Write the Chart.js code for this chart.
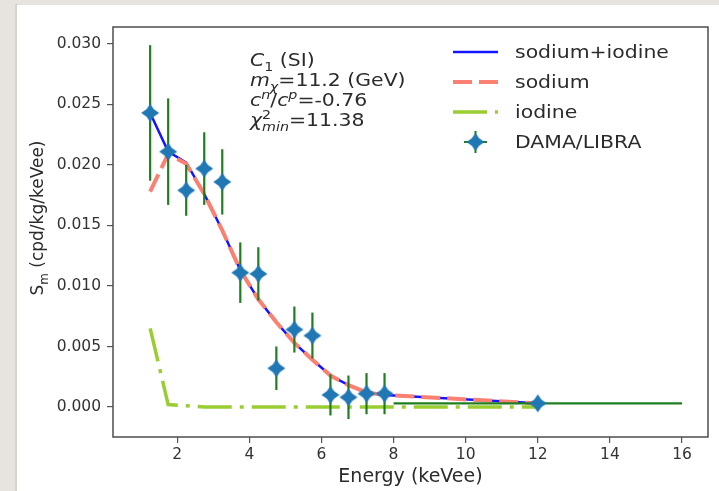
<!DOCTYPE html>
<html lang="en">
    <head>
        <meta charset="UTF-8" />
        <title>DAMA/LIBRA modulation fit</title>
        <script src="https://cdn.jsdelivr.net/npm/chart.js"></script>
        <style>
            html, body { margin: 0; padding: 0; background: #e7e4df; }
            canvas { display: block; }
        </style>
    </head>
    <body>
        <canvas id="fit" width="719" height="491"></canvas>

        <script>
            // bin centres (keVee), last one is the wide 8-16 bin
            const energy = [1.25, 1.75, 2.25, 2.75, 3.25, 3.75, 4.25, 4.75, 5.25, 5.75, 6.25, 6.75, 7.25, 7.75, 12];

            // DAMA/LIBRA modulation amplitude and errors
            const damaRate = [0.0243, 0.0211, 0.0179, 0.0197, 0.0186, 0.0111, 0.0110, 0.0032, 0.0064, 0.0059, 0.0010, 0.0008, 0.0011, 0.0011, 0.0003];
            const damaYErr = [0.0056, 0.0044, 0.0021, 0.0030, 0.0027, 0.0025, 0.0022, 0.0018, 0.0019, 0.0019, 0.0017, 0.0018, 0.0017, 0.0017, 0];
            const damaXErr = [0, 0, 0, 0, 0, 0, 0, 0, 0, 0, 0, 0, 0, 0, 4];

            // model curves
            const sodiumIodine = [0.0243, 0.0211, 0.0202, 0.0176, 0.0146, 0.0113, 0.0089, 0.0070, 0.0053, 0.0039, 0.0026, 0.0018, 0.0012, 0.0010, 0.0003];
            const sodium = [0.0178, 0.0209, 0.0201, 0.0176, 0.0146, 0.0113, 0.0089, 0.0070, 0.0053, 0.0039, 0.0026, 0.0018, 0.0012, 0.0010, 0.0003];
            const iodine = [0.0065, 0.0002, 0.0001, 0, 0, 0, 0, 0, 0, 0, 0, 0, 0, 0, 0];

            const xTicks = [2, 4, 6, 8, 10, 12, 14, 16];
            const yTicks = [0, 0.005, 0.01, 0.015, 0.02, 0.025, 0.03];

            // annotation block (segments: it = italic, sub/sup, stack = sup over sub)
            const infoLines = [
                [{ t: "C", it: true }, { t: "1", sub: true }, { t: " (SI)" }],
                [{ t: "m", it: true }, { t: "χ", it: true, sub: true }, { t: "=11.2 (GeV)" }],
                [{ t: "c", it: true }, { t: "n", it: true, sup: true }, { t: "/" }, { t: "c", it: true }, { t: "p", it: true, sup: true }, { t: "=-0.76" }],
                [{ t: "χ", it: true }, { t: "2", sup: true, stack: true }, { t: "min", it: true, sub: true }, { t: "=11.38" }],
            ];
            const yTitle = [{ t: "S" }, { t: "m", sub: true }, { t: " (cpd/kg/keVee)" }];

            const FONT = '"DejaVu Sans", sans-serif';

            function pts(ys) {
                return energy.map((e, i) => ({ x: e, y: ys[i] }));
            }

            // 4-pointed star marker
            function makeStar(r, inner, color) {
                const c = document.createElement("canvas");
                const s = Math.ceil(r * 2 + 2);
                c.width = s;
                c.height = s;
                const g = c.getContext("2d");
                g.translate(s / 2, s / 2);
                g.beginPath();
                for (let k = 0; k < 8; k++) {
                    const a = (k * Math.PI) / 4 - Math.PI / 2;
                    const rr = k % 2 === 0 ? r : inner;
                    g.lineTo(rr * Math.cos(a), rr * Math.sin(a));
                }
                g.closePath();
                g.fillStyle = color;
                g.fill();
                return c;
            }
            const star = makeStar(9, 5.2, "#1f77b4");

            function drawRich(ctx, segs, x, y, size, sx) {
                ctx.save();
                ctx.translate(x, y);
                ctx.scale(sx, 1);
                ctx.textBaseline = "alphabetic";
                ctx.textAlign = "left";
                let cx = 0;
                let pending = 0;
                segs.forEach((s) => {
                    const fs = s.sub || s.sup ? size * 0.7 : size;
                    ctx.font = (s.it ? "italic " : "") + fs + "px " + FONT;
                    const dy = s.sub ? size * 0.28 : s.sup ? -size * 0.4 : 0;
                    ctx.fillText(s.t, cx, dy);
                    const w = ctx.measureText(s.t).width;
                    if (s.stack) {
                        pending = w;
                    } else {
                        cx += Math.max(w, pending);
                        pending = 0;
                    }
                });
                ctx.restore();
            }

            const decor = {
                id: "decor",
                beforeDraw(chart) {
                    const ctx = chart.ctx;
                    ctx.save();
                    ctx.fillStyle = "#e7e4df";
                    ctx.fillRect(0, 0, chart.width, chart.height);
                    ctx.fillStyle = "#d6d3ce";
                    ctx.fillRect(15, 4, 3, chart.height);
                    ctx.fillStyle = "#ffffff";
                    ctx.fillRect(17, 5, chart.width - 17, chart.height - 5);
                    ctx.restore();
                },
                beforeDatasetDraw(chart, args) {
                    // error bars go under the DAMA markers
                    if (args.index !== 3) return;
                    const ctx = chart.ctx;
                    const xs = chart.scales.x;
                    const ys = chart.scales.y;
                    const a = chart.chartArea;
                    ctx.save();
                    ctx.beginPath();
                    ctx.rect(a.left, a.top, a.right - a.left, a.bottom - a.top);
                    ctx.clip();
                    ctx.strokeStyle = "#1f7f1f";
                    ctx.lineWidth = 2.2;
                    energy.forEach((e, i) => {
                        const px = xs.getPixelForValue(e);
                        const py = ys.getPixelForValue(damaRate[i]);
                        ctx.beginPath();
                        if (damaYErr[i] > 0) {
                            ctx.moveTo(px, ys.getPixelForValue(damaRate[i] - damaYErr[i]));
                            ctx.lineTo(px, ys.getPixelForValue(damaRate[i] + damaYErr[i]));
                        }
                        if (damaXErr[i] > 0) {
                            ctx.moveTo(xs.getPixelForValue(e - damaXErr[i]), py);
                            ctx.lineTo(xs.getPixelForValue(e + damaXErr[i]), py);
                        }
                        ctx.stroke();
                    });
                    ctx.restore();
                },
                afterDraw(chart) {
                    const ctx = chart.ctx;
                    const a = chart.chartArea;
                    ctx.save();
                    // frame
                    ctx.strokeStyle = "#4d4d4d";
                    ctx.lineWidth = 1.5;
                    ctx.strokeRect(a.left, a.top, a.right - a.left, a.bottom - a.top);

                    ctx.fillStyle = "#2b2b2b";
                    // y title, rotated
                    ctx.save();
                    ctx.translate(43, 218);
                    ctx.rotate(-Math.PI / 2);
                    let w = 0;
                    yTitle.forEach((s) => {
                        ctx.font = (s.sub ? 17 * 0.7 : 17) + "px " + FONT;
                        w += ctx.measureText(s.t).width;
                    });
                    drawRich(ctx, yTitle, -w / 2, 0, 17, 1);
                    ctx.restore();

                    // info block
                    const base = [66, 86, 106, 126];
                    infoLines.forEach((line, i) => drawRich(ctx, line, 250, base[i], 17, 1.2));

                    // legend
                    const rows = [52, 82, 112, 142];
                    chart.data.datasets.forEach((ds, i) => {
                        const y = rows[i];
                        if (ds.showLine) {
                            ctx.save();
                            ctx.strokeStyle = ds.borderColor;
                            ctx.lineWidth = ds.borderWidth;
                            ctx.setLineDash(ds.borderDash || []);
                            ctx.beginPath();
                            ctx.moveTo(453, y);
                            ctx.lineTo(498, y);
                            ctx.stroke();
                            ctx.restore();
                        } else {
                            ctx.save();
                            ctx.strokeStyle = "#1f7f1f";
                            ctx.lineWidth = 2;
                            ctx.beginPath();
                            ctx.moveTo(464, y);
                            ctx.lineTo(487, y);
                            ctx.moveTo(475.5, y - 11);
                            ctx.lineTo(475.5, y + 11);
                            ctx.stroke();
                            ctx.drawImage(star, 475.5 - star.width / 2, y - star.height / 2);
                            ctx.restore();
                        }
                        drawRich(ctx, [{ t: ds.label }], 515, y + 6, 17, 1.2);
                    });
                    ctx.restore();
                },
            };

            const ctx = document.getElementById("fit").getContext("2d");
            new Chart(ctx, {
                type: "scatter",
                data: {
                    datasets: [
                        {
                            label: "sodium+iodine",
                            data: pts(sodiumIodine),
                            showLine: true,
                            borderColor: "#1414ff",
                            borderWidth: 2.5,
                            pointRadius: 0,
                            order: 2,
                        },
                        {
                            label: "sodium",
                            data: pts(sodium),
                            showLine: true,
                            borderColor: "#fa8072",
                            borderWidth: 4,
                            borderDash: [19, 7],
                            pointRadius: 0,
                            order: 1,
                        },
                        {
                            label: "iodine",
                            data: pts(iodine),
                            showLine: true,
                            borderColor: "#9acd32",
                            borderWidth: 3.5,
                            borderDash: [34, 8, 4, 8],
                            pointRadius: 0,
                            order: 3,
                        },
                        {
                            label: "DAMA/LIBRA",
                            data: pts(damaRate),
                            showLine: false,
                            pointStyle: star,
                            pointRadius: 9,
                            order: 0,
                        },
                    ],
                },
                options: {
                    responsive: false,
                    animation: false,
                    layout: { padding: { left: 0, right: 11, top: 27, bottom: 0 } },
                    plugins: {
                        legend: { display: false },
                        tooltip: { enabled: false },
                    },
                    scales: {
                        x: {
                            type: "linear",
                            min: 0.22,
                            max: 16.72,
                            afterBuildTicks: (s) => {
                                s.ticks = xTicks.map((v) => ({ value: v }));
                            },
                            afterFit: (s) => {
                                s.height = 54;
                            },
                            ticks: {
                                callback: (v) => String(v),
                                font: { family: FONT, size: 15.5 },
                                color: "#333333",
                                padding: 3,
                                maxRotation: 0,
                            },
                            grid: {
                                drawOnChartArea: false,
                                tickLength: 6,
                                color: "#555555",
                                lineWidth: 1.2,
                            },
                            border: { display: false },
                            title: {
                                display: true,
                                text: "Energy (keVee)",
                                font: { family: FONT, size: 19 },
                                color: "#2b2b2b",
                                padding: { top: 0, bottom: 3 },
                            },
                        },
                        y: {
                            type: "linear",
                            min: -0.00248,
                            max: 0.0314,
                            afterBuildTicks: (s) => {
                                s.ticks = yTicks.map((v) => ({ value: v }));
                            },
                            afterFit: (s) => {
                                s.width = 113;
                            },
                            ticks: {
                                callback: (v) => v.toFixed(3),
                                font: { family: FONT, size: 15.5 },
                                color: "#333333",
                                padding: 6,
                            },
                            grid: {
                                drawOnChartArea: false,
                                tickLength: 6,
                                color: "#555555",
                                lineWidth: 1.2,
                            },
                            border: { display: false },
                        },
                    },
                },
                plugins: [decor],
            });
        </script>
    </body>
</html>
